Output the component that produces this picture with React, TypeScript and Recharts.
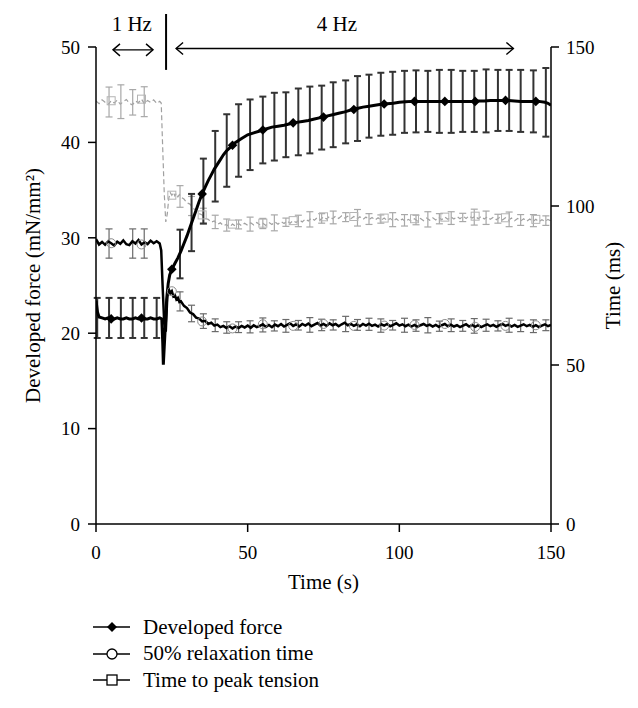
import React from 'react';
import {
  ComposedChart,
  Line,
  Scatter,
  XAxis,
  YAxis,
  ErrorBar,
  ReferenceLine,
  ReferenceDot,
  Legend,
} from 'recharts';

const FONT = '"Liberation Serif", "Times New Roman", serif';

// ---------------- Developed force (left axis, mN/mm^2) ----------------
const forceTime = [
  0, 0.5, 1, 2, 3, 4, 5, 6, 7, 8, 9, 10, 11, 12, 13, 14, 15, 16, 17, 18, 19, 20, 21,
  21.7, 22.0, 22.2, 22.5, 22.9, 23.3, 23.8, 24.3,
  25, 26, 27, 28, 29, 30, 31, 32, 33, 34, 35, 36, 37, 38, 39, 40, 41, 42, 43, 44, 45, 46, 47, 48,
  50, 52, 54, 56, 58, 60, 62, 64, 66, 68, 70, 72, 74, 76, 78, 80, 82, 84, 86, 88, 90, 92, 94, 96, 98,
  100, 102, 104, 106, 108, 110, 112, 114, 116, 118, 120, 122, 124, 126, 128, 130, 132, 134, 136, 138,
  140, 142, 144, 146, 148, 149, 150,
];
const forceValue = [
  23.4, 22.2, 21.7, 21.6, 21.5, 21.6, 21.5, 21.5, 21.6, 21.5, 21.5, 21.6, 21.5, 21.5, 21.6, 21.5, 21.6, 21.5, 21.5, 21.6, 21.5, 21.5, 21.6,
  21.5, 19.0, 16.7, 18.6, 21.0, 23.6, 25.2, 26.1,
  26.7, 27.3, 27.9, 28.6, 29.4, 30.2, 31.1, 32.0, 32.9, 33.8, 34.6, 35.3, 36.0, 36.6, 37.2, 37.7, 38.2, 38.7, 39.1, 39.4, 39.7, 40.0, 40.2, 40.4,
  40.8, 41.0, 41.2, 41.4, 41.6, 41.7, 41.8, 41.95, 42.1, 42.2, 42.3, 42.45, 42.6, 42.75, 42.9, 43.05, 43.2, 43.4, 43.55, 43.7, 43.8, 43.9, 44.0, 44.05, 44.1,
  44.2, 44.25, 44.3, 44.3, 44.3, 44.3, 44.3, 44.3, 44.3, 44.3, 44.3, 44.3, 44.3, 44.35, 44.35, 44.4, 44.4, 44.4, 44.4, 44.35,
  44.3, 44.3, 44.3, 44.3, 44.2, 44.1, 43.9,
];
const forceMarkTime = [5, 15, 25, 35, 45, 55, 65, 75, 85, 95, 105, 115, 125, 135, 145];
const forceMarkValue = [21.5, 21.6, 26.7, 34.6, 39.7, 41.3, 42.05, 42.65, 43.45, 44.02, 44.3, 44.3, 44.3, 44.4, 44.3];

const forceErrTime = [
  0.4, 4.3, 8.2, 12.1, 15.9, 20.0, 27.7, 31.5, 35.4, 39.3, 43.1, 47.0,
  50.8, 55.0, 58.8, 62.6, 66.7, 70.5, 74.4, 78.2, 82.3, 86.2, 90.0, 93.9, 97.8,
  101.7, 105.5, 109.4, 113.2, 117.1, 120.9, 124.7, 128.6, 132.5, 136.2, 140.0, 144.2, 148.3,
];
const forceErrMean = [
  21.6, 21.6, 21.6, 21.6, 21.6, 21.6, 28.3, 31.6, 34.9, 37.5, 39.15, 40.2,
  40.8, 41.3, 41.65, 41.85, 42.15, 42.35, 42.6, 42.9, 43.2, 43.55, 43.8, 44.0, 44.1,
  44.25, 44.3, 44.3, 44.3, 44.3, 44.3, 44.3, 44.35, 44.4, 44.4, 44.35, 44.3, 44.2,
];
const forceErrSd = [
  2.1, 2.1, 2.1, 2.1, 2.1, 2.1, 2.55, 3.0, 3.4, 3.7, 3.8, 3.8,
  3.7, 3.5, 3.55, 3.4, 3.5, 3.5, 3.35, 3.4, 3.3, 3.4, 3.3, 3.3, 3.3,
  3.25, 3.25, 3.2, 3.3, 3.3, 3.2, 3.2, 3.3, 3.2, 3.2, 3.25, 3.25, 3.6,
];

// ---------------- Shared sampling times for the timing traces ----------------
const beatTime = [
  0, 1, 2, 3, 4, 5, 6, 7, 8, 9, 10, 11, 12, 13, 14, 15, 16, 17, 18, 19, 20, 21,
  21.5, 22, 22.5, 23, 23.5, 24, 24.5, 25, 25.5, 26, 26.5, 27, 27.5,
  28, 29, 30, 31, 32, 33, 34, 35, 36, 37,
  38, 39, 40, 41, 42, 43, 44, 45, 46, 47,
  48, 49, 50, 51, 52, 53, 54, 55, 56, 57,
  58, 59, 60, 61, 62, 63, 64, 65, 66, 67,
  68, 69, 70, 71, 72, 73, 74, 75, 76, 77,
  78, 79, 80, 81, 82, 83, 84, 85, 86, 87,
  88, 89, 90, 91, 92, 93, 94, 95, 96, 97,
  98, 99, 100, 101, 102, 103, 104, 105, 106, 107,
  108, 109, 110, 111, 112, 113, 114, 115, 116, 117,
  118, 119, 120, 121, 122, 123, 124, 125, 126, 127,
  128, 129, 130, 131, 132, 133, 134, 135, 136, 137,
  138, 139, 140, 141, 142, 143, 144, 145, 146, 147,
  148, 149, 150,
];

// ---------------- 50% relaxation time (right axis, ms) ----------------
const relaxValue = [
  89.6, 87.9, 88.7, 87.8, 88.9, 88.3, 87.6, 88.8, 88.1, 89.2, 88.0, 87.7, 88.9, 88.2, 89.3, 87.9, 88.6, 88.0, 89.1, 88.3, 88.9, 88.2,
  86.0, 74.0, 63.0, 60.5, 71.5, 73.8, 72.6, 73.2, 71.6, 72.0, 70.6, 71.1, 69.8,
  70.0, 68.6, 67.9, 66.5, 66.0, 64.9, 64.6, 63.7, 63.9, 62.9,
  63.3, 62.4, 62.7, 61.9, 62.3, 61.6, 62.2, 61.5, 62.1, 61.6,
  62.3, 61.8, 62.4, 61.7, 62.5, 61.9, 62.3, 62.8, 62.0, 62.6,
  61.9, 62.7, 62.2, 62.9, 62.1, 62.6, 63.1, 62.3, 62.8, 62.1,
  62.9, 62.4, 63.0, 62.2, 62.7, 63.2, 62.4, 62.9, 62.3, 63.1,
  62.5, 62.9, 62.2, 62.8, 63.3, 62.5, 62.9, 62.3, 62.8, 62.2,
  62.9, 62.4, 63.0, 62.3, 62.7, 62.1, 62.8, 62.4, 62.9, 62.2,
  62.6, 63.1, 62.4, 62.8, 62.2, 62.7, 62.1, 62.6, 62.0, 62.5,
  62.9, 62.3, 62.7, 62.1, 62.6, 62.0, 62.5, 62.9, 62.2, 62.7,
  62.1, 62.5, 61.9, 62.4, 62.8, 62.1, 62.6, 62.0, 62.5, 61.9,
  62.4, 62.8, 62.2, 62.6, 62.0, 62.5, 62.9, 62.3, 62.7, 62.1,
  62.6, 62.0, 62.4, 62.8, 62.2, 62.6, 62.0, 62.5, 61.9, 62.4,
  62.8, 62.2, 62.6,
];
const relaxMarkTime = [5, 15, 25, 35, 45, 55, 65, 75, 85, 95, 105, 115, 125, 135, 145];
const relaxMarkValue = [88.3, 87.9, 73.2, 63.7, 61.5, 62.8, 62.3, 62.9, 62.3, 62.4, 62.6, 62.9, 62.0, 62.3, 62.5];
const relaxErrTime = [
  4.3, 12.1, 15.9, 27.7, 31.5, 35.4, 39.3, 43.1, 47.0,
  50.8, 55.0, 58.8, 62.6, 66.7, 70.5, 74.4, 78.2, 82.3, 86.2, 90.0, 93.9, 97.8,
  101.7, 105.5, 109.4, 113.2, 117.1, 120.9, 124.7, 128.6, 132.5, 136.2, 140.0, 144.2, 148.3,
];
const relaxErrMean = [
  88.2, 88.2, 88.2, 70.0, 66.2, 63.8, 62.5, 61.8, 61.9,
  62.0, 62.6, 62.3, 62.3, 62.5, 62.6, 62.6, 62.6, 62.9, 62.6, 62.8, 62.4, 62.5,
  62.5, 62.4, 62.5, 62.2, 62.5, 62.3, 62.3, 62.5, 62.3, 62.5, 62.3, 62.2, 62.5,
];
const relaxErrSd = [
  4.6, 4.6, 4.6, 3.0, 2.6, 2.3, 2.0, 1.8, 1.7,
  1.9, 2.2, 1.6, 2.0, 1.5, 2.3, 1.8, 1.6, 2.4, 1.7, 1.9, 2.1, 1.5,
  2.2, 1.8, 2.4, 1.6, 2.0, 1.7, 2.3, 1.9, 1.6, 2.2, 1.8, 2.0, 1.7,
];

// ---------------- Time to peak tension (right axis, ms) ----------------
const ttpValue = [
  133.0, 132.2, 133.4, 132.6, 131.9, 133.1, 132.4, 133.3, 132.0, 132.8, 133.5, 132.3, 131.8, 133.0, 132.5, 133.6, 132.1, 133.2, 132.6, 133.4, 132.3, 132.9,
  132.4, 118.0, 104.0, 95.0, 97.5, 102.5, 104.2, 103.4, 104.3, 103.2, 104.0, 102.9, 103.6,
  102.8, 102.2, 101.0, 100.6, 99.3, 98.7, 97.6, 97.2, 96.1, 95.8,
  94.9, 95.3, 94.2, 94.7, 93.8, 94.2, 93.4, 94.3, 93.7, 94.5,
  93.8, 94.6, 93.9, 94.7, 94.0, 94.8, 94.1, 94.6, 93.9, 94.8,
  94.2, 95.0, 94.3, 95.1, 94.5, 95.3, 94.6, 95.4, 94.8, 95.7,
  95.0, 95.9, 95.3, 96.2, 95.5, 96.4, 95.7, 96.6, 95.9, 96.7,
  96.0, 96.8, 96.1, 96.9, 96.2, 96.8, 96.0, 96.7, 95.9, 96.6,
  95.8, 96.5, 95.7, 96.4, 95.6, 96.3, 95.5, 96.2, 95.4, 96.1,
  95.3, 96.0, 95.2, 95.9, 95.1, 95.8, 95.2, 96.0, 95.3, 96.1,
  95.4, 96.2, 95.5, 96.3, 95.6, 96.4, 95.7, 96.5, 95.8, 96.6,
  95.9, 96.7, 96.0, 96.8, 96.1, 96.9, 96.2, 96.8, 96.0, 96.7,
  95.9, 96.6, 95.8, 96.5, 95.7, 96.4, 95.6, 96.3, 95.5, 96.2,
  95.4, 96.1, 95.3, 96.0, 95.2, 95.9, 95.1, 95.8, 95.0, 95.7,
  95.1, 95.8, 95.3,
];
const ttpMarkTime = [5, 15, 25, 35, 45, 55, 65, 75, 85, 95, 105, 115, 125, 135, 145];
const ttpMarkValue = [133.1, 133.6, 103.4, 97.2, 94.3, 94.6, 95.4, 96.6, 96.7, 96.2, 96.0, 96.5, 96.8, 96.3, 95.8];
const ttpErrTime = [
  4.3, 8.2, 12.1, 15.9, 27.7, 31.5, 35.4, 39.3, 43.1, 47.0,
  50.8, 55.0, 58.8, 62.6, 66.7, 70.5, 74.4, 78.2, 82.3, 86.2, 90.0, 93.9, 97.8,
  101.7, 105.5, 109.4, 113.2, 117.1, 120.9, 124.7, 128.6, 132.5, 136.2, 140.0, 144.2, 148.3,
];
const ttpErrMean = [
  132.7, 132.8, 132.6, 132.8, 103.0, 100.0, 96.8, 95.0, 94.0, 94.2,
  94.3, 94.5, 94.7, 94.9, 95.3, 95.8, 96.1, 96.4, 96.5, 96.3, 95.9, 95.9, 95.7,
  95.5, 95.6, 95.8, 96.0, 96.2, 96.4, 96.5, 96.3, 96.0, 95.8, 95.6, 95.4, 95.4,
];
const ttpErrSd = [
  4.7, 5.3, 4.0, 4.7, 3.4, 3.0, 2.5, 2.1, 1.9, 1.4,
  2.2, 1.6, 2.5, 1.3, 1.8, 2.4, 1.5, 2.0, 1.4, 2.6, 1.7, 1.3, 2.2,
  1.8, 1.5, 2.4, 1.6, 2.0, 1.3, 2.5, 2.1, 1.4, 2.3, 1.7, 1.9, 1.5,
];

// ---------------- Axes / annotation labels ----------------
const xTicks = [0, 50, 100, 150];
const leftTicks = [0, 10, 20, 30, 40, 50];
const rightTicks = [0, 50, 100, 150];
const legendLabels = ['Developed force', '50% relaxation time', 'Time to peak tension'];

const zip = (ts: number[], vs: number[]) => ts.map((t, i) => ({ t, v: vs[i] }));
const zipErr = (ts: number[], vs: number[], es: number[]) => ts.map((t, i) => ({ t, v: vs[i], e: es[i] }));

const forceData = zip(forceTime, forceValue);
const forceMarks = zip(forceMarkTime, forceMarkValue);
const forceErr = zipErr(forceErrTime, forceErrMean, forceErrSd);
const relaxData = zip(beatTime, relaxValue);
const relaxMarks = zip(relaxMarkTime, relaxMarkValue);
const relaxErr = zipErr(relaxErrTime, relaxErrMean, relaxErrSd);
const ttpData = zip(beatTime, ttpValue);
const ttpMarks = zip(ttpMarkTime, ttpMarkValue);
const ttpErr = zipErr(ttpErrTime, ttpErrMean, ttpErrSd);

const Diamond = (p: any) => {
  const { cx, cy } = p;
  const r = 4.8;
  return <polygon points={`${cx},${cy - r} ${cx + r},${cy} ${cx},${cy + r} ${cx - r},${cy}`} fill="#000" />;
};
const OpenCircle = (p: any) => <circle cx={p.cx} cy={p.cy} r={4.5} fill="none" stroke="#8a8a8a" strokeWidth={1} />;
const OpenSquare = (p: any) => (
  <rect x={p.cx - 4} y={p.cy - 4} width={8} height={8} fill="none" stroke="#b4b4b4" strokeWidth={1} />
);
const NoShape = () => <g />;

const DoubleArrow = (p: any) => {
  const { x1, y1, x2, y2 } = p;
  const h = 7;
  const v = 6;
  return (
    <g stroke="#000" strokeWidth={1.4} fill="none">
      <line x1={x1} y1={y1} x2={x2} y2={y2} />
      <polyline points={`${x1 + h},${y1 - v} ${x1},${y1} ${x1 + h},${y1 + v}`} />
      <polyline points={`${x2 - h},${y2 - v} ${x2},${y2} ${x2 - h},${y2 + v}`} />
    </g>
  );
};

const LegendBox = () => {
  const markers = [
    <polygon key="d" points="19,5 24,10 19,15 14,10" fill="#000" />,
    <circle key="c" cx={19} cy={10} r={5} fill="#fff" stroke="#000" strokeWidth={1.3} />,
    <rect key="s" x={14} y={5} width={10} height={10} fill="#fff" stroke="#000" strokeWidth={1.3} />,
  ];
  return (
    <div style={{ height: 84, fontFamily: FONT, fontSize: 21, color: '#000' }}>
      {legendLabels.map((lab, i) => (
        <div key={lab} style={{ height: 26.5, display: 'flex', alignItems: 'center', lineHeight: 1 }}>
          <svg width={40} height={20} style={{ display: 'block' }}>
            <line x1={0} y1={10} x2={37} y2={10} stroke="#000" strokeWidth={1.6} />
            {markers[i]}
          </svg>
          <span style={{ marginLeft: 10, whiteSpace: 'nowrap' }}>{lab}</span>
        </div>
      ))}
    </div>
  );
};

const axisStroke = { stroke: '#000', strokeWidth: 1.5 };
const tickStyle = { fill: '#000', fontSize: 19, fontFamily: FONT };
const titleStyle = { fill: '#000', fontSize: 21, fontFamily: FONT };

export default function App() {
  return (
    <div style={{ position: 'absolute', left: 0, top: 0, width: 638, height: 708, background: '#fff' }}>
      <ComposedChart width={638} height={708} margin={{ top: 47, right: 0, bottom: 34, left: 0 }}>
        <XAxis
          type="number"
          dataKey="t"
          domain={[0, 150]}
          ticks={xTicks}
          allowDataOverflow
          height={66}
          tickSize={8}
          tickMargin={14}
          axisLine={axisStroke}
          tickLine={axisStroke}
          tick={tickStyle}
          label={{ value: 'Time (s)', position: 'insideBottom', offset: 1, style: titleStyle }}
        />
        <YAxis
          yAxisId="left"
          orientation="left"
          type="number"
          dataKey="v"
          domain={[0, 50]}
          ticks={leftTicks}
          allowDataOverflow
          width={96}
          tickSize={8}
          tickMargin={8}
          axisLine={axisStroke}
          tickLine={axisStroke}
          tick={tickStyle}
          label={{
            value: 'Developed force (mN/mm²)',
            angle: -90,
            position: 'insideLeft',
            offset: 33,
            style: { ...titleStyle, textAnchor: 'middle' },
          }}
        />
        <YAxis
          yAxisId="right"
          orientation="right"
          type="number"
          dataKey="v"
          domain={[0, 150]}
          ticks={rightTicks}
          allowDataOverflow
          width={87}
          tickSize={8}
          tickMargin={7}
          axisLine={axisStroke}
          tickLine={axisStroke}
          tick={tickStyle}
          label={{
            value: 'Time (ms)',
            angle: -90,
            position: 'insideRight',
            offset: 25,
            style: { ...titleStyle, textAnchor: 'middle' },
          }}
        />

        {/* Time to peak tension */}
        <Line
          data={ttpData}
          yAxisId="right"
          dataKey="v"
          type="linear"
          stroke="#a0a0a0"
          strokeWidth={1.2}
          strokeDasharray="5 3"
          dot={false}
          activeDot={false}
          isAnimationActive={false}
        />
        <Scatter data={ttpErr} yAxisId="right" dataKey="v" shape={NoShape} isAnimationActive={false}>
          <ErrorBar dataKey="e" direction="y" width={3.5} stroke="#a8a8a8" strokeWidth={1.2} isAnimationActive={false} />
        </Scatter>
        <Scatter data={ttpMarks} yAxisId="right" dataKey="v" shape={OpenSquare} isAnimationActive={false} />

        {/* 50% relaxation time */}
        <Scatter data={relaxErr} yAxisId="right" dataKey="v" shape={NoShape} isAnimationActive={false}>
          <ErrorBar dataKey="e" direction="y" width={3.5} stroke="#6a6a6a" strokeWidth={1.2} isAnimationActive={false} />
        </Scatter>
        <Scatter data={relaxMarks} yAxisId="right" dataKey="v" shape={OpenCircle} isAnimationActive={false} />
        <Line
          data={relaxData}
          yAxisId="right"
          dataKey="v"
          type="linear"
          stroke="#000"
          strokeWidth={2.5}
          dot={false}
          activeDot={false}
          isAnimationActive={false}
        />

        {/* Developed force */}
        <Scatter data={forceErr} yAxisId="left" dataKey="v" shape={NoShape} isAnimationActive={false}>
          <ErrorBar dataKey="e" direction="y" width={3.5} stroke="#333" strokeWidth={2} isAnimationActive={false} />
        </Scatter>
        <Line
          data={forceData}
          yAxisId="left"
          dataKey="v"
          type="linear"
          stroke="#000"
          strokeWidth={3}
          dot={false}
          activeDot={false}
          isAnimationActive={false}
        />
        <Scatter data={forceMarks} yAxisId="left" dataKey="v" shape={Diamond} isAnimationActive={false} />

        {/* Frequency annotations */}
        <ReferenceLine
          yAxisId="left"
          segment={[{ x: 5.6, y: 49.7 }, { x: 18.8, y: 49.7 }]}
          ifOverflow="visible"
          shape={DoubleArrow}
        />
        <ReferenceLine
          yAxisId="left"
          segment={[{ x: 26.4, y: 49.85 }, { x: 137.6, y: 49.85 }]}
          ifOverflow="visible"
          shape={DoubleArrow}
        />
        <ReferenceLine
          yAxisId="left"
          segment={[{ x: 23.1, y: 47.6 }, { x: 23.1, y: 53.46 }]}
          ifOverflow="visible"
          stroke="#000"
          strokeWidth={2}
        />
        <ReferenceDot
          yAxisId="left"
          x={11.8}
          y={49.8}
          r={1}
          fill="none"
          stroke="none"
          ifOverflow="visible"
          label={{ value: '1 Hz', position: 'top', offset: 17, style: titleStyle }}
        />
        <ReferenceDot
          yAxisId="left"
          x={79.4}
          y={49.8}
          r={1}
          fill="none"
          stroke="none"
          ifOverflow="visible"
          label={{ value: '4 Hz', position: 'top', offset: 17, style: titleStyle }}
        />

        <Legend
          verticalAlign="bottom"
          layout="horizontal"
          wrapperStyle={{ left: 93, top: 614, width: 300 }}
          content={() => <LegendBox />}
        />
      </ComposedChart>
    </div>
  );
}
